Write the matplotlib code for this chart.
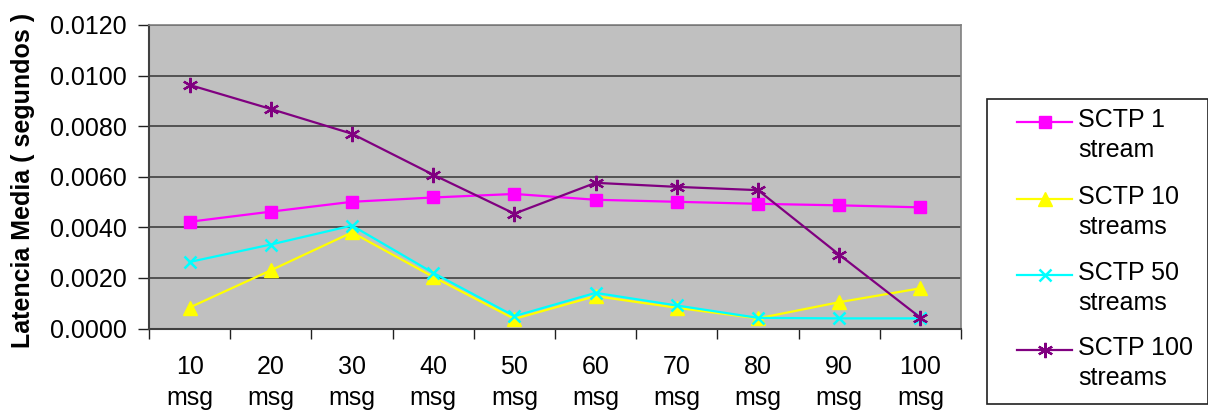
import matplotlib
matplotlib.use("Agg")
import matplotlib.pyplot as plt
from matplotlib.lines import Line2D
from matplotlib.patches import Rectangle
import numpy as np

plt.rcParams["font.family"] = ["Liberation Sans", "DejaVu Sans"]

categories = ["10\nmsg", "20\nmsg", "30\nmsg", "40\nmsg", "50\nmsg",
              "60\nmsg", "70\nmsg", "80\nmsg", "90\nmsg", "100\nmsg"]
sctp_1 = [0.00422, 0.00462, 0.00501, 0.00518, 0.00532,
          0.00509, 0.00501, 0.00493, 0.00487, 0.00479]
sctp_10 = [0.00083, 0.00230, 0.00380, 0.00204, 0.00038,
           0.00128, 0.00082, 0.00040, 0.00104, 0.00159]
sctp_50 = [0.00263, 0.00332, 0.00407, 0.00220, 0.00049,
           0.00141, 0.00091, 0.00042, 0.00040, 0.00040]
sctp_100 = [0.00963, 0.00868, 0.00770, 0.00608, 0.00454,
            0.00576, 0.00560, 0.00547, 0.00292, 0.00043]
series_labels = ["SCTP 1\nstream", "SCTP 10\nstreams",
                 "SCTP 50\nstreams", "SCTP 100\nstreams"]
y_ticks = [0.0, 0.002, 0.004, 0.006, 0.008, 0.010, 0.012]

W_PX, H_PX = 1208, 419
FS = 18

def fx(px):
    return px / W_PX

def fy(py):
    return 1 - py / H_PX

styles = [
    dict(color="#FF00FF", marker="s", ms=8, mec="#FF00FF", mfc="#FF00FF"),
    dict(color="#FFFF00", marker="^", ms=9.5, mec="#FFFF00", mfc="#FFFF00"),
    dict(color="#00FFFF", marker="x", ms=9, mew=1.8),
    dict(color="#800080", marker=(6, 2, 0), ms=11, mew=1.6),
]

fig = plt.figure(figsize=(W_PX / 100, H_PX / 100), dpi=100)
fig.patch.set_facecolor("white")

left, right, top, bottom = 149, 961, 25, 328.5
ax = fig.add_axes([fx(left), fy(bottom), fx(right - left), (bottom - top) / H_PX])
ax.set_facecolor("#C0C0C0")

x = np.arange(len(categories))
for vals, st in zip([sctp_1, sctp_10, sctp_50, sctp_100], styles):
    ax.plot(x, vals, lw=1.6, **st)

ax.set_xlim(-0.5, len(categories) - 0.5)
ax.set_ylim(0, 0.012)
ax.set_yticks(y_ticks)
ax.set_yticklabels([f"{v:.4f}" for v in y_ticks], fontsize=FS)
ax.yaxis.grid(True, color="#404040", lw=1.2)
ax.set_axisbelow(True)

ax.set_xticks(np.arange(-0.5, len(categories), 1))
ax.set_xticklabels([])
ax.set_xticks(x, minor=True)
ax.set_xticklabels(categories, minor=True, fontsize=FS, linespacing=1.35)
ax.tick_params(axis="x", which="major", direction="out", length=7,
               width=1, color="#202020")
ax.tick_params(axis="x", which="minor", length=0, pad=19)
ax.tick_params(axis="y", direction="out", length=8, width=1,
               color="#202020", pad=8)

for side in ("left", "bottom"):
    ax.spines[side].set_color("#404040")
    ax.spines[side].set_linewidth(1.5)
for side in ("top", "right"):
    ax.spines[side].set_color("#808080")
    ax.spines[side].set_linewidth(1.2)

fig.text(fx(23), fy(180), "Latencia Media ( segundos )", rotation=90,
         ha="center", va="center", fontsize=FS, fontweight="bold")

# legend box drawn in figure coordinates
fig.patches.append(Rectangle((fx(987), fy(404)), fx(1207.5 - 987), (404 - 99) / H_PX,
                             transform=fig.transFigure, facecolor="white",
                             edgecolor="#202020", lw=1.2))
entry_y = [122, 199, 275, 350]
for yy, lab, st in zip(entry_y, series_labels, styles):
    fig.lines.append(Line2D([fx(1017), fx(1072)], [fy(yy), fy(yy)],
                            transform=fig.transFigure, lw=1.6,
                            color=st["color"]))
    fig.lines.append(Line2D([fx(1044.5)], [fy(yy)], transform=fig.transFigure,
                            lw=0, **st))
    fig.text(fx(1078), fy(yy - 14), lab, ha="left", va="top",
             fontsize=FS, linespacing=1.3)

fig.savefig("out.png", dpi=100)
